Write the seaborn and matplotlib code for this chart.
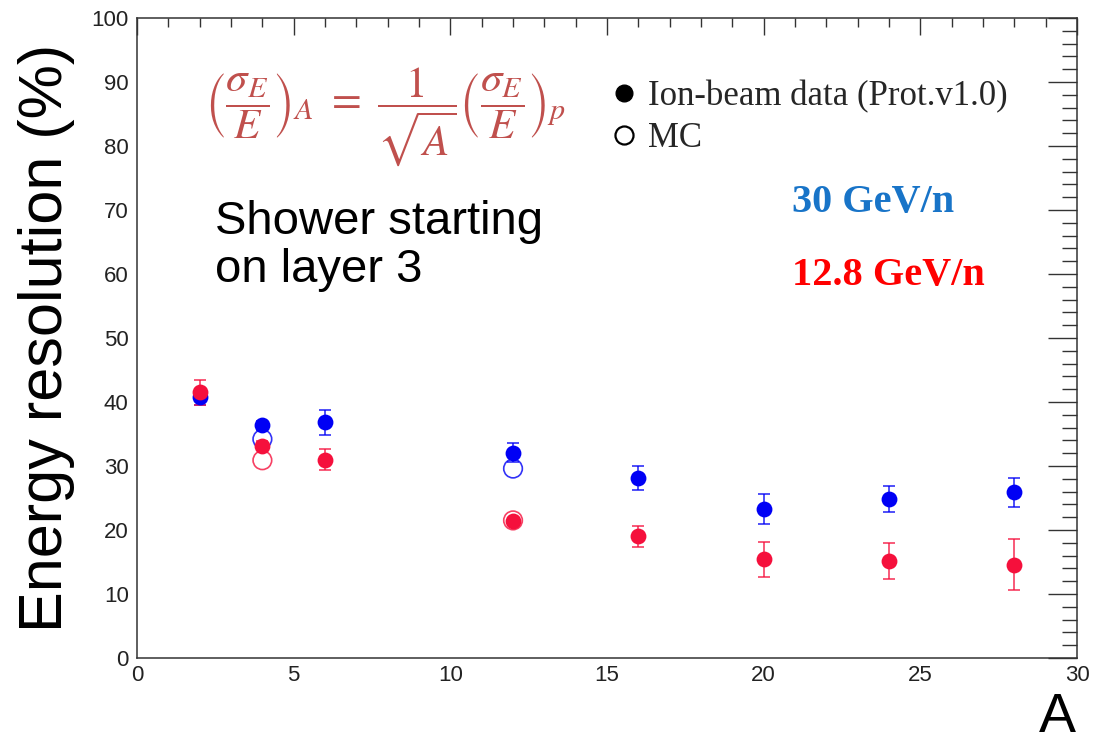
import pandas as pd
import matplotlib
matplotlib.use("Agg")
import matplotlib.pyplot as plt
from matplotlib.lines import Line2D
from matplotlib.ticker import MultipleLocator
import seaborn as sns

# 数据
A_data = [2, 4, 6, 12, 16, 20, 24, 28]
res_30 = [40.8, 36.4, 36.8, 32.1, 28.1, 23.3, 24.8, 25.9]
err_30 = [1.2, 0.7, 2.0, 1.5, 1.9, 2.3, 2.0, 2.3]
res_12p8 = [41.5, 33.2, 31.0, 21.4, 19.0, 15.4, 15.1, 14.6]
err_12p8 = [2.0, 0.7, 1.6, 0.5, 1.6, 2.8, 2.8, 4.0]

A_mc = [4, 12]
mc_30 = [34.2, 29.6]
mc_12p8 = [30.9, 21.5]

blue = '#0000f5'
red = '#f5103c'

sns.set_style("white")
plt.rcParams['font.family'] = ['Liberation Sans', 'DejaVu Sans']
plt.rcParams['mathtext.fontset'] = 'stix'

fig = plt.figure(figsize=(10.99, 7.48), dpi=100)
ax = fig.add_axes([0.1247, 0.1203, 0.8553, 0.8557])

for res, err, mc, c in [(res_30, err_30, mc_30, blue), (res_12p8, err_12p8, mc_12p8, red)]:
    ax.errorbar(A_data, res, yerr=err, fmt='none', ecolor=c, alpha=0.75,
                elinewidth=1.3, capsize=4.5, capthick=1.3, zorder=2)
    sns.scatterplot(x=A_mc, y=mc, ax=ax, marker='o', s=180, facecolor='none',
                    edgecolor=c, linewidth=1.2, alpha=0.8, zorder=3)
    sns.scatterplot(x=A_data, y=res, ax=ax, marker='o', s=130, color=c,
                    edgecolor=c, linewidth=0, zorder=4)

ax.set_xlim(0, 30)
ax.set_ylim(0, 100)
ax.xaxis.set_major_locator(MultipleLocator(5))
ax.xaxis.set_minor_locator(MultipleLocator(1))
ax.yaxis.set_major_locator(MultipleLocator(10))
ax.yaxis.set_minor_locator(MultipleLocator(2))

ax.tick_params(which='both', direction='in', top=True, right=True, color='#333333',
               width=1.0, labelsize=16, labelcolor='#222222')
ax.tick_params(axis='y', which='major', length=21, pad=6)
ax.tick_params(axis='y', which='minor', length=10.5)
ax.tick_params(axis='x', which='major', length=12, pad=5)
ax.tick_params(axis='x', which='minor', length=6.5)
for sp in ax.spines.values():
    sp.set_color('#333333')
    sp.set_linewidth(1.1)

ax.set_ylabel('Energy resolution (%)', fontsize=44, color='black')
ax.yaxis.set_label_coords(-0.066, 0.5)
fig.text(0.962, 0.04, 'A', fontsize=40, ha='center', va='center', color='black')

# 公式
ax.text(0.264, 0.846, r'$\left(\dfrac{\sigma_E}{E}\right)_A\ =\ \dfrac{1}{\sqrt{A}}\left(\dfrac{\sigma_E}{E}\right)_p$',
        transform=ax.transAxes, fontsize=31, color='#c0504d', ha='center', va='center')

ax.text(0.083, 0.644, 'Shower starting\non layer 3', transform=ax.transAxes,
        fontsize=34, ha='left', va='center', linespacing=1.1, color='black')

ax.text(0.697, 0.711, '30 GeV/n', transform=ax.transAxes, fontsize=29,
        family='Liberation Serif', weight='bold', color='#1874c8', ha='left', va='center')
ax.text(0.697, 0.598, '12.8 GeV/n', transform=ax.transAxes, fontsize=29,
        family='Liberation Serif', weight='bold', color='#ff0000', ha='left', va='center')

handles = [Line2D([], [], ls='none', marker='o', ms=12, color='black'),
           Line2D([], [], ls='none', marker='o', ms=13, mfc='none', mec='black', mew=1.6)]
ax.legend(handles, ['Ion-beam data (Prot.v1.0)', 'MC'], loc='upper left',
          bbox_to_anchor=(0.49, 0.925), frameon=False, handlelength=0.7,
          handletextpad=0.35, labelspacing=0.25, borderaxespad=0,
          prop={'family': 'Liberation Serif', 'size': 25})

plt.savefig('out.png', dpi=100)
